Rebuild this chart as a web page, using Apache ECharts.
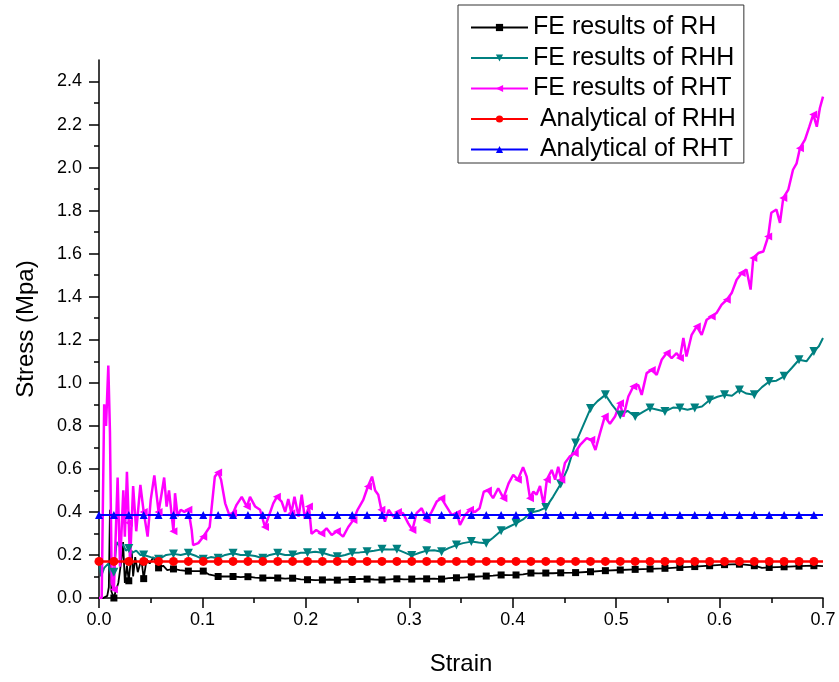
<!DOCTYPE html>
<html><head><meta charset="utf-8">
<script src="https://cdn.jsdelivr.net/npm/echarts@6/dist/echarts.min.js"></script>
<style>html,body{margin:0;padding:0;background:#fff}#c{width:839px;height:682px}</style>
</head><body><div id="c"></div>
<script>
// ---- data (strain, stress in MPa) ----
const xTicks = [0, 0.1, 0.2, 0.3, 0.4, 0.5, 0.6, 0.7];
const yTicks = [0, 0.2, 0.4, 0.6, 0.8, 1.0, 1.2, 1.4, 1.6, 1.8, 2.0, 2.2, 2.4];
const seriesNames = ['FE results of RH', 'FE results of RHH', 'FE results of RHT', ' Analytical of RHH', ' Analytical of RHT'];

const rhData = [[0,0],[0.004,0],[0.008,0.01],[0.0095,0.05],[0.0106,0.41],[0.012,0.03],[0.0144,0],[0.016,0.03],[0.0187,0.07],[0.022,0.19],[0.0233,0.26],[0.025,0.07],[0.027,0.15],[0.0288,0.08],[0.0316,0.22],[0.033,0.10],[0.035,0.19],[0.0375,0.12],[0.041,0.18],[0.0432,0.09],[0.046,0.18],[0.049,0.16],[0.0525,0.19],[0.0576,0.14],[0.062,0.15],[0.066,0.13],[0.072,0.135],[0.078,0.13],[0.0864,0.125],[0.094,0.125],[0.1008,0.125],[0.106,0.11],[0.1152,0.10],[0.122,0.10],[0.1296,0.10],[0.137,0.097],[0.144,0.099],[0.151,0.095],[0.1584,0.093],[0.165,0.094],[0.1728,0.093],[0.18,0.09],[0.1872,0.092],[0.195,0.087],[0.2016,0.085],[0.209,0.083],[0.216,0.084],[0.223,0.086],[0.2304,0.083],[0.238,0.087],[0.2448,0.086],[0.252,0.089],[0.2592,0.088],[0.266,0.086],[0.2736,0.084],[0.281,0.087],[0.288,0.089],[0.295,0.087],[0.3024,0.088],[0.31,0.09],[0.3168,0.089],[0.324,0.09],[0.3312,0.088],[0.338,0.092],[0.3456,0.094],[0.352,0.095],[0.36,0.098],[0.367,0.1],[0.3744,0.102],[0.381,0.104],[0.3888,0.107],[0.396,0.106],[0.4032,0.107],[0.41,0.11],[0.4176,0.116],[0.425,0.114],[0.432,0.116],[0.439,0.115],[0.4464,0.117],[0.4608,0.118],[0.4752,0.122],[0.4896,0.127],[0.504,0.13],[0.5184,0.133],[0.5328,0.135],[0.5472,0.138],[0.5616,0.142],[0.576,0.146],[0.5904,0.15],[0.6048,0.155],[0.6192,0.157],[0.6336,0.15],[0.641,0.14],[0.648,0.142],[0.6624,0.145],[0.6768,0.148],[0.6912,0.15],[0.7,0.148]];

const rhhData = [[0,0.19],[0.002,0.1],[0.005,0.14],[0.009,0.16],[0.012,0.1],[0.0144,0.12],[0.017,0.26],[0.02,0.24],[0.023,0.25],[0.026,0.22],[0.0288,0.23],[0.032,0.21],[0.036,0.22],[0.04,0.2],[0.0432,0.2],[0.05,0.19],[0.0576,0.18],[0.065,0.2],[0.072,0.205],[0.079,0.2],[0.0864,0.208],[0.094,0.195],[0.1008,0.18],[0.108,0.19],[0.1152,0.185],[0.122,0.2],[0.1296,0.208],[0.137,0.2],[0.144,0.2],[0.151,0.195],[0.1584,0.185],[0.165,0.2],[0.1728,0.208],[0.18,0.2],[0.1872,0.2],[0.195,0.21],[0.2016,0.21],[0.209,0.215],[0.216,0.21],[0.223,0.2],[0.2304,0.192],[0.238,0.2],[0.2448,0.21],[0.252,0.212],[0.2592,0.215],[0.266,0.22],[0.2736,0.226],[0.281,0.225],[0.288,0.226],[0.295,0.212],[0.3024,0.197],[0.31,0.21],[0.3168,0.22],[0.324,0.222],[0.3312,0.215],[0.338,0.232],[0.3456,0.246],[0.352,0.255],[0.36,0.262],[0.367,0.258],[0.3744,0.254],[0.381,0.28],[0.3888,0.313],[0.396,0.33],[0.4032,0.347],[0.41,0.365],[0.4176,0.397],[0.425,0.405],[0.432,0.42],[0.439,0.47],[0.4464,0.53],[0.453,0.6],[0.4608,0.72],[0.468,0.8],[0.4752,0.88],[0.482,0.915],[0.4896,0.944],[0.4957,0.9],[0.504,0.85],[0.511,0.87],[0.5184,0.843],[0.526,0.865],[0.5328,0.883],[0.54,0.875],[0.5472,0.867],[0.555,0.885],[0.5616,0.883],[0.569,0.875],[0.576,0.883],[0.583,0.89],[0.5904,0.92],[0.598,0.935],[0.6048,0.944],[0.612,0.94],[0.6192,0.967],[0.626,0.95],[0.6336,0.944],[0.641,0.98],[0.648,1.006],[0.655,1.01],[0.6624,1.03],[0.67,1.07],[0.6768,1.107],[0.684,1.1],[0.6912,1.146],[0.696,1.17],[0.7,1.208]];

const rhtData = [[0,0],[0.0026,0],[0.005,0.9],[0.0068,0.8],[0.009,1.08],[0.0106,0.77],[0.0123,0.07],[0.0144,0.04],[0.018,0.56],[0.0203,0.146],[0.0235,0.5],[0.025,0.285],[0.027,0.587],[0.0288,0.35],[0.03,0.16],[0.033,0.52],[0.036,0.31],[0.04,0.526],[0.0432,0.40],[0.047,0.285],[0.05,0.456],[0.0535,0.57],[0.0576,0.40],[0.0606,0.487],[0.063,0.56],[0.0654,0.425],[0.0677,0.5],[0.072,0.31],[0.0735,0.487],[0.076,0.38],[0.079,0.41],[0.0825,0.40],[0.0864,0.41],[0.0896,0.316],[0.091,0.246],[0.096,0.255],[0.1008,0.285],[0.107,0.33],[0.112,0.564],[0.1152,0.583],[0.118,0.55],[0.122,0.44],[0.1266,0.378],[0.1296,0.394],[0.133,0.433],[0.138,0.47],[0.143,0.425],[0.146,0.47],[0.151,0.425],[0.1557,0.41],[0.1605,0.33],[0.164,0.378],[0.1685,0.44],[0.172,0.47],[0.1766,0.448],[0.18,0.40],[0.183,0.46],[0.186,0.394],[0.189,0.47],[0.193,0.378],[0.196,0.48],[0.199,0.37],[0.203,0.425],[0.2055,0.298],[0.21,0.316],[0.215,0.30],[0.22,0.324],[0.225,0.293],[0.23,0.31],[0.236,0.285],[0.241,0.33],[0.246,0.363],[0.25,0.41],[0.2555,0.456],[0.26,0.518],[0.264,0.564],[0.267,0.5],[0.27,0.48],[0.273,0.41],[0.2765,0.355],[0.28,0.41],[0.2845,0.378],[0.289,0.40],[0.294,0.394],[0.299,0.347],[0.303,0.316],[0.307,0.394],[0.312,0.417],[0.3168,0.363],[0.3216,0.40],[0.3265,0.448],[0.331,0.464],[0.336,0.425],[0.341,0.386],[0.346,0.394],[0.349,0.34],[0.354,0.386],[0.3587,0.41],[0.3635,0.40],[0.368,0.417],[0.372,0.494],[0.376,0.5],[0.381,0.464],[0.386,0.51],[0.391,0.464],[0.396,0.533],[0.4005,0.572],[0.405,0.55],[0.41,0.608],[0.4135,0.564],[0.4167,0.464],[0.42,0.494],[0.423,0.48],[0.4264,0.52],[0.43,0.43],[0.433,0.55],[0.4377,0.595],[0.441,0.55],[0.444,0.61],[0.447,0.55],[0.4505,0.627],[0.455,0.657],[0.46,0.673],[0.465,0.71],[0.4715,0.743],[0.476,0.735],[0.48,0.688],[0.4844,0.766],[0.489,0.843],[0.494,0.81],[0.4989,0.843],[0.5037,0.905],[0.507,0.843],[0.5118,0.936],[0.5166,0.983],[0.5214,0.99],[0.5247,0.944],[0.5295,1.045],[0.5344,1.06],[0.5392,1.037],[0.544,1.107],[0.5489,1.138],[0.5537,1.115],[0.5585,1.138],[0.5617,1.115],[0.565,1.208],[0.568,1.122],[0.573,1.223],[0.578,1.262],[0.5827,1.223],[0.5875,1.293],[0.5924,1.308],[0.597,1.324],[0.602,1.363],[0.607,1.386],[0.6117,1.417],[0.6165,1.479],[0.6214,1.51],[0.626,1.526],[0.63,1.433],[0.6326,1.58],[0.6375,1.603],[0.6423,1.61],[0.647,1.68],[0.65,1.79],[0.655,1.805],[0.6584,1.743],[0.6616,1.859],[0.6665,1.898],[0.671,1.99],[0.6745,2.02],[0.6777,2.09],[0.6826,2.13],[0.6868,2.19],[0.6906,2.247],[0.694,2.19],[0.697,2.277],[0.7,2.33]];

const anaStrain = [0,0.0144,0.0288,0.0432,0.0576,0.072,0.0864,0.1008,0.1152,0.1296,0.144,0.1584,0.1728,0.1872,0.2016,0.216,0.2304,0.2448,0.2592,0.2736,0.288,0.3024,0.3168,0.3312,0.3456,0.36,0.3744,0.3888,0.4032,0.4176,0.432,0.4464,0.4608,0.4752,0.4896,0.504,0.5184,0.5328,0.5472,0.5616,0.576,0.5904,0.6048,0.6192,0.6336,0.648,0.6624,0.6768,0.6912,0.7];
const anaRhh = [0.17,0.17,0.17,0.17,0.17,0.17,0.17,0.17,0.17,0.17,0.17,0.17,0.17,0.17,0.17,0.17,0.17,0.17,0.17,0.17,0.17,0.17,0.17,0.17,0.17,0.17,0.17,0.17,0.17,0.17,0.17,0.17,0.17,0.17,0.17,0.17,0.17,0.17,0.17,0.17,0.17,0.17,0.17,0.17,0.17,0.17,0.17,0.17,0.17,0.17];
const anaRht = [0.386,0.386,0.386,0.386,0.386,0.386,0.386,0.386,0.386,0.386,0.386,0.386,0.386,0.386,0.386,0.386,0.386,0.386,0.386,0.386,0.386,0.386,0.386,0.386,0.386,0.386,0.386,0.386,0.386,0.386,0.386,0.386,0.386,0.386,0.386,0.386,0.386,0.386,0.386,0.386,0.386,0.386,0.386,0.386,0.386,0.386,0.386,0.386,0.386,0.386];

// ---- chart ----
const FONT = 'Liberation Sans, Arial, sans-serif';
const MARK_STEP = 0.0144;

function markerSet(xs, fromK) {
  const s = new Set();
  for (let k = fromK; k * MARK_STEP <= 0.695; k++) {
    const t = k * MARK_STEP;
    let best = -1, bd = 1;
    xs.forEach((x, i) => { const d = Math.abs(x - t); if (d < bd) { bd = d; best = i; } });
    if (bd < 0.004) s.add(best);
  }
  return s;
}

function lineSeries(name, data, color, width, symbol, size, rotate, marks) {
  return {
    name, type: 'line', data, color,
    symbol, symbolRotate: rotate,
    symbolSize: (v, p) => marks.has(p.dataIndex) ? size : 0,
    showSymbol: true, showAllSymbol: true,
    lineStyle: { color, width },
    itemStyle: { color },
    emphasis: { disabled: true },
    animation: false, clip: true
  };
}

const anaRhhData = anaStrain.map((x, i) => [x, anaRhh[i]]);
const anaRhtData = anaStrain.map((x, i) => [x, anaRht[i]]);

const chart = echarts.init(document.getElementById('c'), null, { renderer: 'canvas' });
chart.setOption({
  backgroundColor: '#fff',
  animation: false,
  grid: { left: 99, right: 16, top: 60, bottom: 84, containLabel: false },
  legend: {
    orient: 'vertical', left: 458, top: 5,
    padding: [10, 8, 1, 12],
    itemWidth: 57, itemHeight: 9, itemGap: 5.5,
    borderColor: '#333', borderWidth: 1,
    textStyle: { fontFamily: FONT, fontSize: 25, color: '#000', lineHeight: 24 },
    data: seriesNames
  },
  xAxis: {
    type: 'value', min: 0, max: 0.7, interval: 0.1,
    name: 'Strain', nameLocation: 'middle', nameGap: 54,
    nameTextStyle: { fontFamily: FONT, fontSize: 24, color: '#000' },
    axisLine: { lineStyle: { color: '#000', width: 1.5 } },
    axisTick: { show: true, length: 10, lineStyle: { color: '#000', width: 1.5 } },
    minorTick: { show: true, splitNumber: 2, length: 5, lineStyle: { color: '#000', width: 1.5 } },
    axisLabel: { fontFamily: FONT, fontSize: 18, color: '#000', margin: 13,
      customValues: xTicks, formatter: v => v.toFixed(1) },
    splitLine: { show: false }
  },
  yAxis: {
    type: 'value', min: 0, max: 2.5, interval: 0.2,
    name: 'Stress (Mpa)', nameLocation: 'middle', nameGap: 61,
    nameTextStyle: { fontFamily: FONT, fontSize: 24, color: '#000' },
    axisLine: { lineStyle: { color: '#000', width: 1.5 } },
    axisTick: { show: true, length: 10, customValues: yTicks, lineStyle: { color: '#000', width: 1.5 } },
    minorTick: { show: true, splitNumber: 2, length: 5, lineStyle: { color: '#000', width: 1.5 } },
    axisLabel: { fontFamily: FONT, fontSize: 18, color: '#000', margin: 17,
      customValues: yTicks, formatter: v => v.toFixed(1) },
    splitLine: { show: false }
  },
  series: [
    lineSeries(seriesNames[0], rhData, '#000000', 1.8, 'rect', 7, 0, markerSet(rhData.map(p => p[0]), 1)),
    lineSeries(seriesNames[1], rhhData, '#008080', 2, 'triangle', 9, 180, markerSet(rhhData.map(p => p[0]), 1)),
    lineSeries(seriesNames[2], rhtData, '#FF00FF', 2.5, 'triangle', 8, 90, markerSet(rhtData.map(p => p[0]), 1)),
    lineSeries(seriesNames[3], anaRhhData, '#FF0000', 2.5, 'circle', 9, 0, markerSet(anaStrain, 0)),
    lineSeries(seriesNames[4], anaRhtData, '#0000FF', 2, 'triangle', 8, 0, markerSet(anaStrain, 0))
  ]
});
</script>
</body></html>
